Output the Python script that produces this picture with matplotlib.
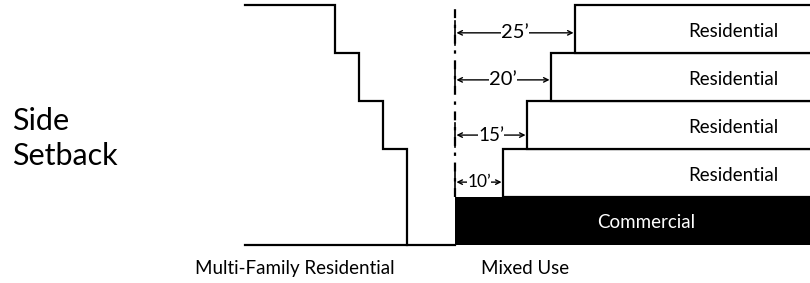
import matplotlib
matplotlib.use("Agg")
import matplotlib.pyplot as plt
from matplotlib.patches import Rectangle

plt.rcParams['font.family'] = ['Lato', 'DejaVu Sans']

# Data (feet)
setbacks = [10, 15, 20, 25]            # upper-floor setbacks from property line
floor_labels = ["Residential", "Residential", "Residential", "Residential"]
dim_labels = ["10\u2019", "15\u2019", "20\u2019", "25\u2019"]
floor_height = 10
base_label = "Commercial"
left_label = "Multi-Family Residential"
right_label = "Mixed Use"
title_text = "Side\nSetback"
left_start = -43.75                    # left building starts here
left_steps = [25, 20, 15, 10]          # left building stepped profile (distance from line)

fig = plt.figure(figsize=(8.1, 2.83), dpi=100)
ax = fig.add_axes([0, 0, 1, 1])
sc = 4.8
ax.set_xlim(-455 / sc, (810 - 455) / sc)
ax.set_ylim(-(283 - 245) / sc, 245 / sc)
ax.axis('off')

lw = 1.6
n = len(setbacks)
top = (n + 1) * floor_height

# Left building stepped profile
xs = [left_start, -left_steps[0]]
ys = [top, top]
for i, s in enumerate(left_steps):
    y_low = top - (i + 1) * floor_height
    if i + 1 < len(left_steps):
        xs += [-s, -left_steps[i + 1]]
        ys += [y_low, y_low]
    else:
        xs += [-s]
        ys += [0]
ax.plot(xs, ys, color='black', lw=lw, solid_joinstyle='miter')
ax.plot([left_start, 0], [0, 0], color='black', lw=lw)

# Commercial base
ax.add_patch(Rectangle((0, 0), 200, floor_height, facecolor='black', edgecolor='black', lw=0))
ax.text(39.8, 4.6, base_label, color='white', fontsize=13.5,
        ha='center', va='center')

# Residential floors
for i, (s, lab) in enumerate(zip(setbacks, floor_labels)):
    y0 = (i + 1) * floor_height
    ax.add_patch(Rectangle((s, y0), 200, floor_height, facecolor='white',
                           edgecolor='black', lw=lw, zorder=2))
    ax.text(58.0, y0 + 4.5, lab, fontsize=13.5, ha='center',
            va='center', zorder=3)

# Property line (dash-dot)
ax.plot([0, 0], [floor_height, top - 0.8], color='black', lw=1.6,
        linestyle=(0, (4, 3, 1.5, 3)), zorder=1)

# Dimension arrows
offsets = [3.1, 2.9, 4.4, 4.2]
fs = [12.5, 13.5, 14.5, 14.5]
for i, (s, lab) in enumerate(zip(setbacks, dim_labels)):
    y = (i + 1) * floor_height + offsets[i]
    ax.annotate('', xy=(0.3, y), xytext=(s - 0.3, y),
                arrowprops=dict(arrowstyle='<->', lw=1.0, color='black',
                                shrinkA=0, shrinkB=0, mutation_scale=8), zorder=4)
    ax.text(s / 2, y, lab, fontsize=fs[i], ha='center', va='center', zorder=5,
            bbox=dict(facecolor='white', edgecolor='none', pad=0.3))
    ax.plot([0, 0], [y - 2.5, y + 2.5], color='black', lw=1.2, zorder=4)

# Labels
ax.text(-33.3, -4.8, left_label, fontsize=13.5, ha='center', va='center')
ax.text(14.6, -4.8, right_label, fontsize=13.5, ha='center', va='center')
ax.text(-92.3, 22.1, title_text, fontsize=22, ha='left', va='center',
        linespacing=1.3)

fig.savefig("out.png", dpi=100)
